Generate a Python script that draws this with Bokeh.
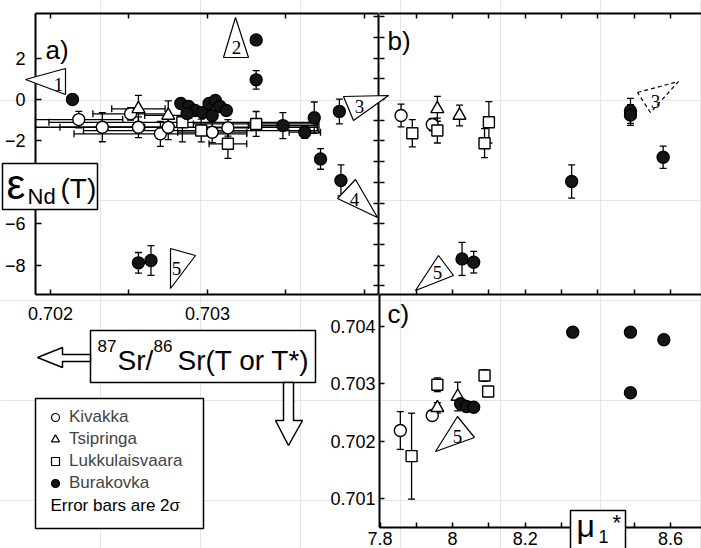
from bokeh.plotting import figure
from bokeh.models import (Range1d, LinearAxis, FixedTicker, Whisker, TeeHead,
                          ColumnDataSource, Label, PolyAnnotation, BoxAnnotation,
                          Legend, LegendItem)
from bokeh.core.properties import value
from bokeh.embed import file_html
from bokeh.resources import INLINE

SANS = "Liberation Sans"
SERIF = "Liberation Serif"

# ======================= DATA =======================
legend_names = ["Kivakka", "Tsipringa", "Lukkulaisvaara", "Burakovka"]

# ---- a) eNd(T) vs 87Sr/86Sr(T or T*) ----
a_kiv_sr = [0.70218, 0.70233, 0.70251, 0.70256, 0.70270, 0.70275, 0.70303, 0.70313]
a_kiv_end = [-0.97, -1.34, -0.69, -1.34, -1.66, -1.34, -1.58, -1.37]
a_kiv_end_err = [0.40, 0.70, 0.30, 0.50, 0.60, 0.60, 0.50, 0.40]
a_kiv_sr_err = [0.00028, 0.00027, 0.00024, 0.00020, 0.00055, 0.00095, 0.00022, 0.00015]

a_tsi_sr = [0.70256, 0.70275]
a_tsi_end = [-0.45, -0.77]
a_tsi_end_err = [0.65, 0.70]
a_tsi_sr_err = [0.00017, 0.00015]

a_luk_sr = [0.70284, 0.70296, 0.70313, 0.70331]
a_luk_end = [-1.10, -1.50, -2.14, -1.18]
a_luk_end_err = [0.95, 0.55, 0.70, 0.60]
a_luk_sr_err = [0.00085, 0.00075, 0.00012, 0.00040]

a_bur_sr = [0.70214, 0.70331, 0.70331, 0.70283, 0.70288, 0.70292, 0.70287, 0.70297,
            0.70301, 0.70305, 0.70308, 0.70312, 0.70303, 0.70348, 0.70362, 0.70368,
            0.70372, 0.70384, 0.70385, 0.70256, 0.70264]
a_bur_end = [0.00, 2.88, 0.95, -0.19, -0.34, -0.53, -0.68, -0.63,
             -0.19, -0.05, -0.34, -0.53, -0.77, -1.26, -1.58, -0.88,
             -2.87, -0.58, -3.91, -7.89, -7.78]
a_bur_end_err = [0.20, 0.00, 0.45, 0.20, 0.20, 0.20, 0.20, 0.20,
                 0.20, 0.20, 0.20, 0.20, 0.20, 0.63, 0.30, 0.76,
                 0.50, 0.60, 0.75, 0.50, 0.72]
a_bur_sr_err = [0, 0, 0, 0, 0, 0, 0, 0,
                0, 0, 0, 0, 0, 0.00022, 0.00010, 0,
                0, 0, 0, 0, 0]

# ---- b) eNd(T) vs mu1* ----
b_kiv_mu = [7.858, 7.944]
b_kiv_end = [-0.77, -1.21]
b_kiv_err = [0.55, 0.30]
b_tsi_mu = [7.958, 8.019]
b_tsi_end = [-0.45, -0.77]
b_tsi_err = [0.60, 0.50]
b_luk_mu = [7.889, 7.958, 8.088, 8.100]
b_luk_end = [-1.63, -1.50, -2.11, -1.10]
b_luk_err = [0.66, 0.60, 0.70, 1.00]
b_bur_mu = [8.026, 8.058, 8.328, 8.490, 8.490, 8.580]
b_bur_end = [-7.70, -7.86, -3.96, -0.55, -0.75, -2.79]
b_bur_err = [0.80, 0.52, 0.80, 0.60, 0.50, 0.54]

# ---- c) 87Sr/86Sr vs mu1* ----
c_kiv_mu = [7.856, 7.944]
c_kiv_sr = [0.702185, 0.702447]
c_kiv_err = [0.00033, 0.00006]
c_tsi_mu = [7.958, 8.014]
c_tsi_sr = [0.702581, 0.702778]
c_tsi_err = [0.00009, 0.00025]
c_luk_mu = [7.887, 7.958, 8.088, 8.098]
c_luk_sr = [0.701737, 0.702983, 0.703145, 0.702866]
c_luk_err = [0.00075, 0.00012, 0.00010, 0.0]
c_bur_mu = [8.022, 8.038, 8.058, 8.331, 8.490, 8.582, 8.490]
c_bur_sr = [0.702651, 0.702604, 0.702592, 0.703901, 0.703901, 0.703768, 0.702843]

# ---- axis extents and ticks ----
XA = (0.7019045, 0.7040892)   # 87Sr/86Sr, panel a
YE = (-9.420, 4.155)          # eNd(T), panels a & b
XM = (7.7986, 8.6857)         # mu1*, panels b & c
YS = (0.7004921, 0.7045585)   # 87Sr/86Sr, panel c

a_y_labels = [-8, -6, -2, 0, 2]
a_x_labels = [0.702, 0.703]
a_x_minor = [0.7025, 0.7035, 0.704]
e_unit_ticks = list(range(-9, 5))
mu_ticks_all = [7.9, 8.0, 8.1, 8.2, 8.3, 8.4, 8.5, 8.6]
mu_ticks_lab = [7.8, 8.0, 8.2, 8.4, 8.6]
mu_ticks_min = [7.9, 8.1, 8.3, 8.5]
c_y_labels = [0.701, 0.702, 0.703, 0.704]

# ======================= PAGE GEOMETRY (px) =======================
W, H = 701, 548
A_L, A_R = 35, 378          # panel a left/right
BC_L, BC_R = 379, 701       # panels b, c left/right
AB_T, AB_B = 13, 294        # panels a, b top/bottom
C_T, C_B = 294, 527         # panel c top/bottom


def x_range_for(v0, v1, p0, p1):
    k = (v1 - v0) / (p1 - p0)
    return Range1d(start=v0 - p0 * k, end=v0 + (W - p0) * k)


def y_range_for(v_bot, v_top, p_bot, p_top):
    k = (v_top - v_bot) / (p_bot - p_top)
    return Range1d(start=v_bot - (H - p_bot) * k, end=v_bot + p_bot * k)


p = figure(width=W, height=H, x_range=Range1d(0, W), y_range=Range1d(H, 0),
           output_backend="svg", toolbar_location=None,
           x_axis_location=None, y_axis_location=None,
           min_border_left=0, min_border_right=0, min_border_top=0, min_border_bottom=0)
p.outline_line_color = None
p.background_fill_color = "white"
p.border_fill_color = "white"
p.extra_x_ranges = {"sr": x_range_for(XA[0], XA[1], A_L, A_R),
                    "mu": x_range_for(XM[0], XM[1], BC_L, BC_R)}
p.extra_y_ranges = {"e": y_range_for(YE[0], YE[1], AB_B, AB_T),
                    "src": y_range_for(YS[0], YS[1], C_B, C_T)}


def axis(side, xr, yr, loc, bounds, major=(), minor=(), labels=False, tick_in=5,
         line=True, standoff=4):
    ax = LinearAxis(x_range_name=xr, y_range_name=yr, fixed_location=loc, bounds=bounds,
                    ticker=FixedTicker(ticks=list(major), minor_ticks=list(minor)))
    ax.major_tick_in = tick_in
    ax.major_tick_out = 0
    ax.minor_tick_in = 5
    ax.minor_tick_out = 0
    ax.major_tick_line_width = 1.5
    ax.minor_tick_line_width = 1.5
    ax.major_tick_line_color = "black"
    ax.minor_tick_line_color = "black"
    if line:
        ax.axis_line_width = 2
        ax.axis_line_color = "black"
    else:
        ax.axis_line_color = None
    ax.major_label_text_font = SANS
    ax.major_label_text_font_size = "18px"
    ax.major_label_text_color = "black"
    ax.major_label_standoff = standoff
    p.add_layout(ax, side)


# panel a frame + ticks
axis("left", "sr", "e", XA[0], YE, major=a_y_labels, labels=True, tick_in=6, standoff=10)
axis("right", "sr", "e", XA[1], YE, minor=e_unit_ticks)
axis("below", "sr", "e", YE[0], XA, major=a_x_labels, minor=a_x_minor, labels=True, standoff=12)
axis("above", "sr", "e", YE[1], XA, minor=a_x_labels + a_x_minor)
# panel b
axis("left", "mu", "e", XM[0], YE, minor=e_unit_ticks, line=False)
axis("above", "mu", "e", YE[1], XM, minor=mu_ticks_all)
axis("below", "mu", "e", YE[0], XM, minor=mu_ticks_all)
# panel c
axis("left", "mu", "src", XM[0], YS, major=c_y_labels, labels=True, standoff=4)
axis("below", "mu", "src", YS[0], XM, major=mu_ticks_lab, minor=mu_ticks_min, labels=True,
     standoff=4)

STYLE = {
    "kiv": dict(marker="circle", size=12, fill_color="white"),
    "tsi": dict(marker="triangle", size=13, fill_color="white"),
    "luk": dict(marker="square", size=11, fill_color="white"),
    "bur": dict(marker="circle", size=12, fill_color="#151515"),
}


def pts(xs, ys, kind, xr, yr):
    p.scatter(xs, ys, line_color="black", line_width=1.4, x_range_name=xr, y_range_name=yr,
              **STYLE[kind])


def whisk(base, center, err, dim, lim, xr, yr):
    rows = [(b, c, e) for b, c, e in zip(base, center, err) if e > 0]
    if not rows:
        return
    src = ColumnDataSource(dict(base=[r[0] for r in rows],
                                lower=[max(r[1] - r[2], lim[0]) for r in rows],
                                upper=[min(r[1] + r[2], lim[1]) for r in rows]))
    p.add_layout(Whisker(source=src, base="base", lower="lower", upper="upper",
                         dimension=dim, line_width=1.3, line_color="black",
                         x_range_name=xr, y_range_name=yr,
                         upper_head=TeeHead(size=7, line_width=1.3),
                         lower_head=TeeHead(size=7, line_width=1.3)))


def lab(x, y, text, size, font=SANS, align="left", baseline="middle"):
    p.add_layout(Label(x=x, y=y, text=text, text_font=font, text_font_size=size,
                       text_align=align, text_baseline=baseline, text_color="black"))


def callout(verts, lpos, text, dashed=False):
    p.add_layout(PolyAnnotation(xs=[v[0] for v in verts], ys=[v[1] for v in verts],
                                fill_color="white", fill_alpha=1.0, line_color="black",
                                line_alpha=1.0, line_width=1.2,
                                line_dash="4 3" if dashed else "solid"))
    lab(lpos[0], lpos[1], text, "19px", font=SERIF, align="center", baseline="middle")


# ---------------- panel a ----------------
whisk(a_kiv_end, a_kiv_sr, a_kiv_sr_err, "width", XA, "sr", "e")
whisk(a_tsi_end, a_tsi_sr, a_tsi_sr_err, "width", XA, "sr", "e")
whisk(a_luk_end, a_luk_sr, a_luk_sr_err, "width", XA, "sr", "e")
whisk(a_bur_end, a_bur_sr, a_bur_sr_err, "width", XA, "sr", "e")
whisk(a_kiv_sr, a_kiv_end, a_kiv_end_err, "height", YE, "sr", "e")
whisk(a_tsi_sr, a_tsi_end, a_tsi_end_err, "height", YE, "sr", "e")
whisk(a_luk_sr, a_luk_end, a_luk_end_err, "height", YE, "sr", "e")
whisk(a_bur_sr, a_bur_end, a_bur_end_err, "height", YE, "sr", "e")
pts(a_kiv_sr, a_kiv_end, "kiv", "sr", "e")
pts(a_tsi_sr, a_tsi_end, "tsi", "sr", "e")
pts(a_luk_sr, a_luk_end, "luk", "sr", "e")
pts(a_bur_sr, a_bur_end, "bur", "sr", "e")

# ---------------- panel b ----------------
whisk(b_kiv_mu, b_kiv_end, b_kiv_err, "height", YE, "mu", "e")
whisk(b_tsi_mu, b_tsi_end, b_tsi_err, "height", YE, "mu", "e")
whisk(b_luk_mu, b_luk_end, b_luk_err, "height", YE, "mu", "e")
whisk(b_bur_mu, b_bur_end, b_bur_err, "height", YE, "mu", "e")
pts(b_kiv_mu, b_kiv_end, "kiv", "mu", "e")
pts(b_tsi_mu, b_tsi_end, "tsi", "mu", "e")
pts(b_luk_mu, b_luk_end, "luk", "mu", "e")
pts(b_bur_mu, b_bur_end, "bur", "mu", "e")

# ---------------- panel c ----------------
whisk(c_kiv_mu, c_kiv_sr, c_kiv_err, "height", YS, "mu", "src")
whisk(c_tsi_mu, c_tsi_sr, c_tsi_err, "height", YS, "mu", "src")
whisk(c_luk_mu, c_luk_sr, c_luk_err, "height", YS, "mu", "src")
pts(c_kiv_mu, c_kiv_sr, "kiv", "mu", "src")
pts(c_tsi_mu, c_tsi_sr, "tsi", "mu", "src")
pts(c_luk_mu, c_luk_sr, "luk", "mu", "src")
pts(c_bur_mu, c_bur_sr, "bur", "mu", "src")

# ---------------- callouts (page px) ----------------
callout([(25, 79), (65, 68), (65, 94)], (58, 84), "1")
callout([(223, 57), (235, 17), (248, 57)], (236, 47), "2")
callout([(343, 96), (388, 95), (353, 120)], (359, 106), "3")
callout([(337, 198), (355, 179), (377, 217)], (354, 199), "4")
callout([(170, 248), (195, 255), (170, 288)], (176, 268), "5")
callout([(415, 290), (438, 255), (453, 275)], (437, 272), "5")
callout([(637, 92), (678, 81), (650, 112)], (655, 101), "3", dashed=True)
callout([(435, 451), (457, 416), (474, 437)], (457, 436), "5")

# ---------------- panel letters ----------------
lab(45, 49, "a)", "26px")
lab(387, 40, "b)", "26px")
lab(387, 313, "c)", "26px")

# ---------------- axis title boxes ----------------
p.add_layout(BoxAnnotation(left=2, right=97, top=163, bottom=209,
                           fill_color="white", fill_alpha=1.0, line_color="black",
                           line_alpha=1.0, line_width=1.5))
lab(6, 184, "ε", "42px")
lab(27, 196, "Nd", "22px")
lab(60, 188, "(T)", "28px")

p.add_layout(BoxAnnotation(left=570, right=625, top=510, bottom=562,
                           fill_color="white", fill_alpha=1.0, line_color="black",
                           line_alpha=1.0, line_width=1.5))
lab(576, 525, "μ", "32px")
lab(598, 536, "1", "18px")
lab(612, 522, "*", "22px")

# 87Sr/86Sr title box with arrows
p.quad(left=[90], right=[315], top=[330], bottom=[382], fill_color="white",
       line_color="black", line_width=1.5)
p.patch([37, 62, 62, 90, 90, 62, 62], [357, 347, 354, 354, 361, 361, 367],
        fill_color="white", line_color="black", line_width=1.5)
p.patch([283, 293, 293, 302, 288, 275, 283], [382, 382, 420, 420, 445, 420, 420],
        fill_color="white", line_color="black", line_width=1.5)
p.text(x=[97, 153], y=[345, 345], text=["87", "86"], text_font=value(SANS),
       text_font_size=value("17px"), text_baseline="middle")
p.text(x=[117, 177], y=[360, 360], text=["Sr/", "Sr(T or T*)"], text_font=value(SANS),
       text_font_size=value("28px"), text_baseline="middle")

# ---------------- legend ----------------
p.quad(left=[35], right=[203], top=[398], bottom=[528], fill_color="white",
       line_color="black", line_width=1.5)
nan = float("nan")
leg_style = {
    "kiv": dict(marker="circle", size=8, fill_color="white"),
    "tsi": dict(marker="triangle", size=9, fill_color="white"),
    "luk": dict(marker="square", size=8, fill_color="white"),
    "bur": dict(marker="circle", size=9, fill_color="#151515"),
}
items = []
for name, kind in zip(legend_names, ["kiv", "tsi", "luk", "bur"]):
    r = p.scatter([nan], [nan], line_color="black", line_width=1.2, **leg_style[kind])
    items.append(LegendItem(label=name, renderers=[r]))
leg = Legend(items=items, location=(45, 55), padding=0, margin=0, spacing=2,
             glyph_width=20, glyph_height=20, label_height=20, label_standoff=4,
             label_text_font=SANS, label_text_font_size="17px",
             border_line_color=None, background_fill_alpha=0)
p.add_layout(leg)
p.text(x=[50], y=[505], text=["Error bars are 2σ"], text_font=value(SANS),
       text_font_size=value("17px"), text_baseline="middle")

open("out.html", "w").write(file_html(p, INLINE))
